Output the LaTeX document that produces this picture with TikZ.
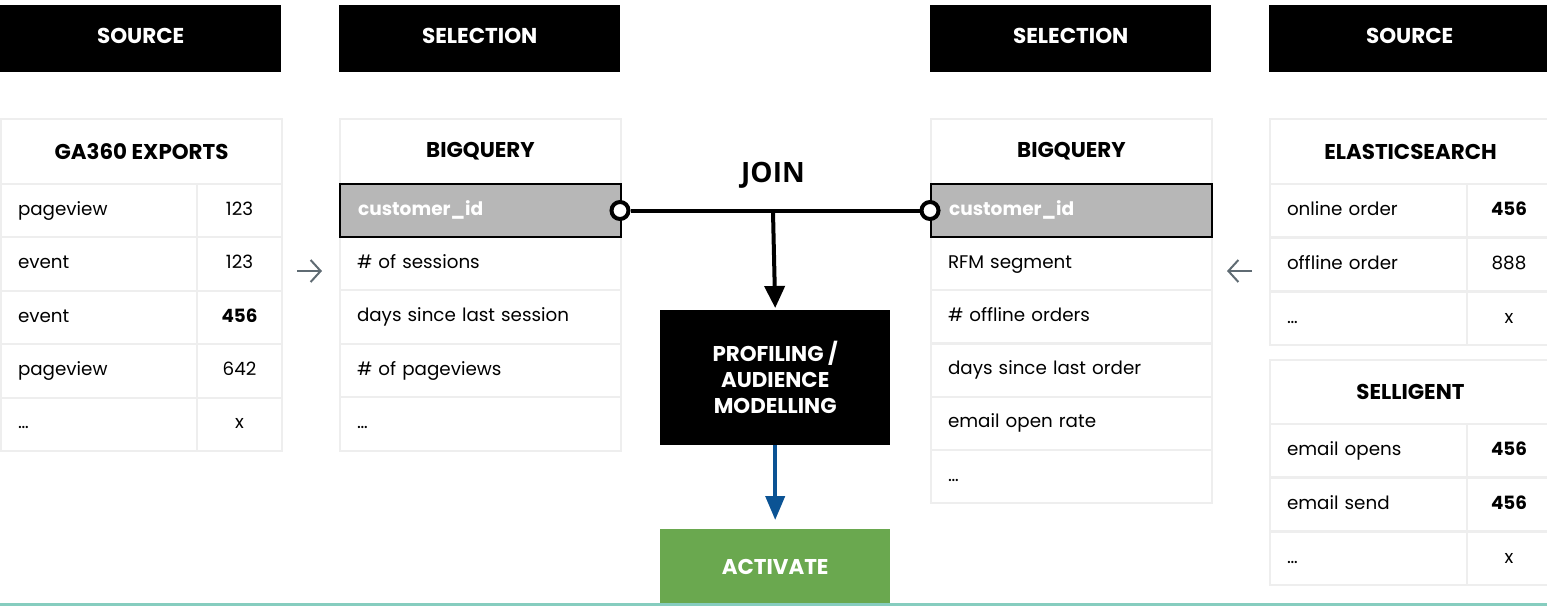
\documentclass[tikz,border=0pt]{standalone}
\usepackage{fontspec}
\setmainfont{Poppins}
\newfontfamily\joinfont{Open Sans}
\usetikzlibrary{arrows.meta}

\definecolor{tablegray}{HTML}{EEEEEE}
\definecolor{keygray}{HTML}{B7B7B7}
\definecolor{arrowgray}{HTML}{5F6B73}
\definecolor{flowblue}{HTML}{0B5394}
\definecolor{activegreen}{HTML}{6AA84F}
\definecolor{baseteal}{HTML}{86CDBF}

\tikzset{
	headbox/.style={fill=black, text=white, font=\fontsize{21.5}{26}\selectfont\bfseries,
		minimum width=281pt, minimum height=67pt, anchor=north west, inner sep=0pt,
		text height=15pt, text depth=6pt},
	tabtitle/.style={draw=tablegray, line width=2pt, font=\fontsize{21.4}{26}\selectfont\bfseries,
		minimum width=281pt, minimum height=65pt, anchor=north west, inner sep=0pt},
	fieldcell/.style={draw=tablegray, line width=2pt, font=\fontsize{18.3}{22}\selectfont,
		minimum height=53.4pt, anchor=north west, inner xsep=17pt, inner ysep=0pt,
		text height=13pt, text depth=4pt, align=left, text width=#1},
	valuecell/.style={draw=tablegray, line width=2pt, font=\fontsize{18.3}{22}\selectfont,
		minimum height=53.4pt, anchor=north west, inner sep=0pt,
		text height=13pt, text depth=4pt, minimum width=#1},
	keycell/.style={draw=black, fill=keygray, line width=2pt, text=white,
		font=\fontsize{18.6}{22}\selectfont\bfseries, minimum height=53pt, anchor=north west,
		inner xsep=18pt, inner ysep=0pt, text height=13pt, text depth=4pt,
		align=left, text width=245pt},
	joint/.style={circle, draw=black, fill=white, line width=4pt, minimum size=17pt, inner sep=0pt},
	darkbox/.style={fill=black, text=white, font=\fontsize{21.4}{26}\selectfont\bfseries,
		minimum width=230pt, anchor=north west, align=center, inner sep=0pt},
	sidearrow/.style={arrowgray, line width=2pt, -{Straight Barb[length=10pt, width=22pt]}}
}

\begin{document}
\begin{tikzpicture}[x=1pt, y=-1pt]
	\useasboundingbox (0,0) rectangle (1547,606);

	% Column headers
	\node[headbox] (srcleft) at (0,5) {SOURCE};
	\node[headbox] (selleft) at (339,5) {SELECTION};
	\node[headbox] (selright) at (930,5) {SELECTION};
	\node[headbox] (srcright) at (1269,5) {SOURCE};

	% GA360 table
	\node[tabtitle] (ga) at (0,118) {GA360 EXPORTS};
	\foreach \f/\v [count=\i] in {pageview/123, event/123, event/\textbf{456}, pageview/642, …/x} {
		\node[fieldcell=162pt] (ga-f\i) at (0,{183+53.4*(\i-1)}) {\f};
		\node[valuecell=85pt] (ga-v\i) at (196,{183+53.4*(\i-1)}) {\v};
	}

	% BigQuery left
	\node[tabtitle] (bql) at (339,118) {BIGQUERY};
	\foreach \f [count=\i] in {\# of sessions, days since last session, \# of pageviews, …} {
		\node[fieldcell=247pt] (bql-f\i) at (339,{236+53.4*(\i-1)}) {\f};
	}
	\node[keycell] (keyleft) at (339,183) {customer\_id};

	% BigQuery right
	\node[tabtitle] (bqr) at (930,118) {BIGQUERY};
	\foreach \f [count=\i] in {RFM segment, \# offline orders, days since last order, email open rate, …} {
		\node[fieldcell=247pt] (bqr-f\i) at (930,{236+53.2*(\i-1)}) {\f};
	}
	\node[keycell] (keyright) at (930,183) {customer\_id};

	% Elasticsearch table
	\node[tabtitle] (es) at (1269,118) {ELASTICSEARCH};
	\foreach \f/\v [count=\i] in {online order/\textbf{456}, offline order/888, …/x} {
		\node[fieldcell=163pt] (es-f\i) at (1269,{183+54*(\i-1)}) {\f};
		\node[valuecell=84pt] (es-v\i) at (1466,{183+54*(\i-1)}) {\v};
	}

	% Selligent table
	\node[tabtitle, minimum height=64pt] (sel) at (1269,359) {SELLIGENT};
	\foreach \f/\v [count=\i] in {email opens/\textbf{456}, email send/\textbf{456}, …/x} {
		\node[fieldcell=163pt] (sel-f\i) at (1269,{423+54*(\i-1)}) {\f};
		\node[valuecell=84pt] (sel-v\i) at (1466,{423+54*(\i-1)}) {\v};
	}

	% Arrows into the selections
	\coordinate (inl-a) at (297,271);
	\coordinate (inl-b) at (322,271);
	\coordinate (inr-a) at (1252,271);
	\coordinate (inr-b) at (1227,271);
	\draw[sidearrow] (inl-a) -- (inl-b);
	\draw[sidearrow] (inr-a) -- (inr-b);

	% Join
	\node[font=\joinfont\fontsize{28}{32}\selectfont\bfseries] (join) at (773,175) {JOIN};
	\node[darkbox, minimum height=135pt] (prof) at (660,310) {PROFILING /\\AUDIENCE\\MODELLING};
	\node[darkbox, fill=activegreen, minimum height=75pt] (act) at (660,529) {ACTIVATE};
	\node[joint] (jl) at ([xshift=-2pt]keyleft.east) {};
	\node[joint] (jr) at (keyright.west) {};
	\coordinate (jm) at (773,212);
	\draw[line width=4pt] (jl) -- (jr);
	\draw[line width=4pt, -{Triangle[length=22pt, width=20pt]}] (jm) -- ([yshift=2pt]prof.north);
	\draw[flowblue, line width=4pt, -{Triangle[length=24pt, width=19pt]}] (prof.south) -- ([yshift=9pt]act.north);

	% Base line
	\fill[baseteal] (0,603) rectangle (1547,606);
\end{tikzpicture}
\end{document}
